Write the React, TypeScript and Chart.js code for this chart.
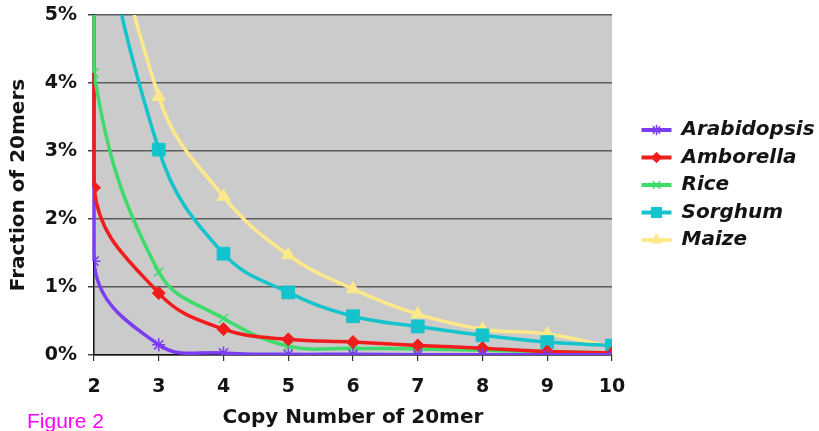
import React, { useEffect, useRef } from 'react';
import { Chart, registerables, PointElement } from 'chart.js';

Chart.register(...registerables);

// ---- data (values in percent) ----
// copy number 1 lies left of the visible axis (off-scale); it only shapes the
// steep, clamped start of each smoothed curve at copy number 2
const copyNumbers = [1, 2, 3, 4, 5, 6, 7, 8, 9, 10];
const arabidopsis = [30, 1.38, 0.15, 0.03, 0.01, 0.01, 0.005, 0.004, 0.003, 0.002];
const amborella = [20, 2.46, 0.91, 0.38, 0.23, 0.19, 0.14, 0.1, 0.05, 0.03];
const rice = [13, 4.15, 1.22, 0.54, 0.13, 0.1, 0.09, 0.07, 0.05, 0.03];
const sorghum = [20, 7.6, 3.02, 1.49, 0.92, 0.57, 0.42, 0.29, 0.19, 0.14];
const maize = [22, 8.3, 3.8, 2.33, 1.47, 0.97, 0.6, 0.38, 0.31, 0.12];
const seriesNames = ['Arabidopsis', 'Amborella', 'Rice', 'Sorghum', 'Maize'];
const seriesValues = [arabidopsis, amborella, rice, sorghum, maize];
const yMin = 0;
const yMax = 5;
const yStep = 1;
const xMin = 2;
const xMax = 10;
const xTitle = 'Copy Number of 20mer';
const yTitle = 'Fraction of 20mers';
const figureLabel = 'Figure 2';

// ---- styles ----
const seriesStyles = [
  { color: '#7a3df2', pointStyle: 'star', radius: 6.5, borderWidth: 1.5 },
  { color: '#f21c1c', pointStyle: 'rectRot', radius: 6.5, borderWidth: 1 },
  { color: '#3ddc6a', pointStyle: 'crossRot', radius: 6.5, borderWidth: 1.5 },
  { color: '#14c4cc', pointStyle: 'rect', radius: 9, borderWidth: 1 },
  { color: '#fde98a', pointStyle: 'triangle', radius: 7.5, borderWidth: 1 },
];

const FONT = "'DejaVu Sans', Verdana, sans-serif";
const TEXT = '#141414';

const plotBackground = {
  id: 'plotBackground',
  beforeDraw(chart: any) {
    const { ctx, chartArea } = chart;
    ctx.save();
    ctx.fillStyle = '#cbcbcb';
    ctx.fillRect(chartArea.left, chartArea.top, chartArea.right - chartArea.left, chartArea.bottom - chartArea.top);
    ctx.restore();
  },
};

// Excel clamps off-scale segments onto the plot edge: draw that edge segment
const edgeClamp = {
  id: 'edgeClamp',
  beforeDatasetsDraw(chart: any) {
    const { ctx, chartArea } = chart;
    chart.data.datasets.forEach((ds: any, i: number) => {
      const meta = chart.getDatasetMeta(i);
      const first = meta.data.find((p: any) => p.x >= chartArea.left - 0.5);
      if (!first || first.y < chartArea.top) return;
      ctx.save();
      ctx.strokeStyle = ds.borderColor;
      ctx.lineWidth = ds.borderWidth;
      ctx.beginPath();
      ctx.moveTo(chartArea.left, first.y);
      ctx.lineTo(chartArea.left, chartArea.top);
      ctx.stroke();
      ctx.restore();
    });
  },
};

const legendMarkers = {
  id: 'legendMarkers',
  afterDraw(chart: any) {
    const legend = chart.legend;
    if (!legend || !legend.legendHitBoxes) return;
    const boxWidth = legend.options.labels.boxWidth;
    const { ctx } = chart;
    legend.legendHitBoxes.forEach((hb: any, i: number) => {
      const st = seriesStyles[i];
      const pt: any = new (PointElement as any)({
        x: hb.left + boxWidth / 2,
        y: hb.top + hb.height / 2,
        options: {
          pointStyle: st.pointStyle,
          radius: st.radius * 0.8,
          rotation: 0,
          borderWidth: st.borderWidth,
          backgroundColor: st.color,
          borderColor: st.color,
          hitRadius: 1,
          hoverRadius: 1,
        },
      });
      ctx.save();
      pt.draw(ctx);
      ctx.restore();
    });
  },
};

export default function App() {
  const ref = useRef<HTMLCanvasElement | null>(null);

  useEffect(() => {
    if (!ref.current) return;
    Chart.defaults.font.family = FONT;
    const datasets = seriesNames.map((name, i) => {
      const st = seriesStyles[i];
      return {
        label: name,
        data: copyNumbers.map((x, j) => ({ x, y: seriesValues[i][j] })),
        borderColor: st.color,
        backgroundColor: st.color,
        borderWidth: 3.5,
        pointStyle: st.pointStyle,
        pointRadius: st.radius,
        pointBorderWidth: st.borderWidth,
        pointBackgroundColor: st.color,
        pointBorderColor: st.color,
        tension: 0.4,
        fill: false,
      };
    });

    const chart = new Chart(ref.current, {
      type: 'line',
      data: { datasets },
      plugins: [plotBackground, edgeClamp, legendMarkers],
      options: {
        animation: false,
        responsive: false,
        devicePixelRatio: 1,
        layout: { padding: { left: 7, top: 15, right: 0, bottom: 0 } },
        elements: { line: { capBezierPoints: false } },
        plugins: {
          tooltip: { enabled: false },
          legend: {
            position: 'right',
            align: 'center',
            fullSize: false,
            maxWidth: 185,
            labels: {
              boxWidth: 30,
              boxHeight: 4,
              padding: 7.5,
              color: TEXT,
              font: { size: 20, weight: 'bold', style: 'italic', family: FONT },
              generateLabels: (c: any) =>
                (Chart.defaults.plugins.legend.labels.generateLabels as any)(c).map((it: any, i: number) => ({
                  ...it,
                  fillStyle: seriesStyles[i].color,
                  strokeStyle: seriesStyles[i].color,
                  lineWidth: 0,
                })),
            },
          },
        },
        scales: {
          x: {
            type: 'linear',
            min: xMin,
            max: xMax,
            ticks: {
              stepSize: 1,
              color: TEXT,
              padding: 15,
              font: { size: 19, weight: 'bold', family: FONT },
            },
            grid: { drawOnChartArea: false, drawTicks: true, tickLength: 6, tickColor: '#333', lineWidth: 1.2 },
            border: { color: '#111', width: 1.5 },
            title: {
              display: true,
              text: xTitle,
              color: TEXT,
              padding: { top: 0, bottom: 1 },
              font: { size: 20, weight: 'bold', family: FONT },
            },
            afterFit: (s: any) => {
              s.height = 76;
              s.paddingLeft = 0;
              s.paddingRight = 0;
            },
          },
          y: {
            type: 'linear',
            min: yMin,
            max: yMax,
            ticks: {
              stepSize: yStep,
              color: TEXT,
              padding: 11,
              font: { size: 19, weight: 'bold', family: FONT },
              callback: (v: any) => v + '%',
            },
            grid: { color: '#5c5c5c', lineWidth: 1.5, tickLength: 6, tickColor: '#444' },
            border: { color: '#111', width: 1.5 },
            title: {
              display: true,
              text: yTitle,
              color: TEXT,
              padding: { top: 0, bottom: 0 },
              font: { size: 20, weight: 'bold', family: FONT },
            },
            afterFit: (s: any) => {
              s.width = 87;
              s.paddingTop = 0;
              s.paddingBottom = 0;
            },
          },
          gap: {
            type: 'linear',
            position: 'right',
            display: true,
            ticks: { display: false },
            grid: { display: false },
            border: { display: false },
            afterFit: (s: any) => {
              s.width = 22;
              s.paddingTop = 0;
              s.paddingBottom = 0;
            },
          },
        },
      } as any,
    });
    return () => chart.destroy();
  }, []);

  return (
    <div style={{ position: 'absolute', left: 0, top: 0, width: 819, height: 431, background: '#fff' }}>
      <canvas ref={ref} width={819} height={431} style={{ display: 'block' }} />
      <div
        style={{
          position: 'absolute',
          left: 27,
          top: 410,
          fontFamily: "'Liberation Sans', Arial, sans-serif",
          fontSize: 21,
          lineHeight: '21px',
          color: '#f0f',
          whiteSpace: 'nowrap',
        }}
      >
        {figureLabel}
      </div>
    </div>
  );
}
